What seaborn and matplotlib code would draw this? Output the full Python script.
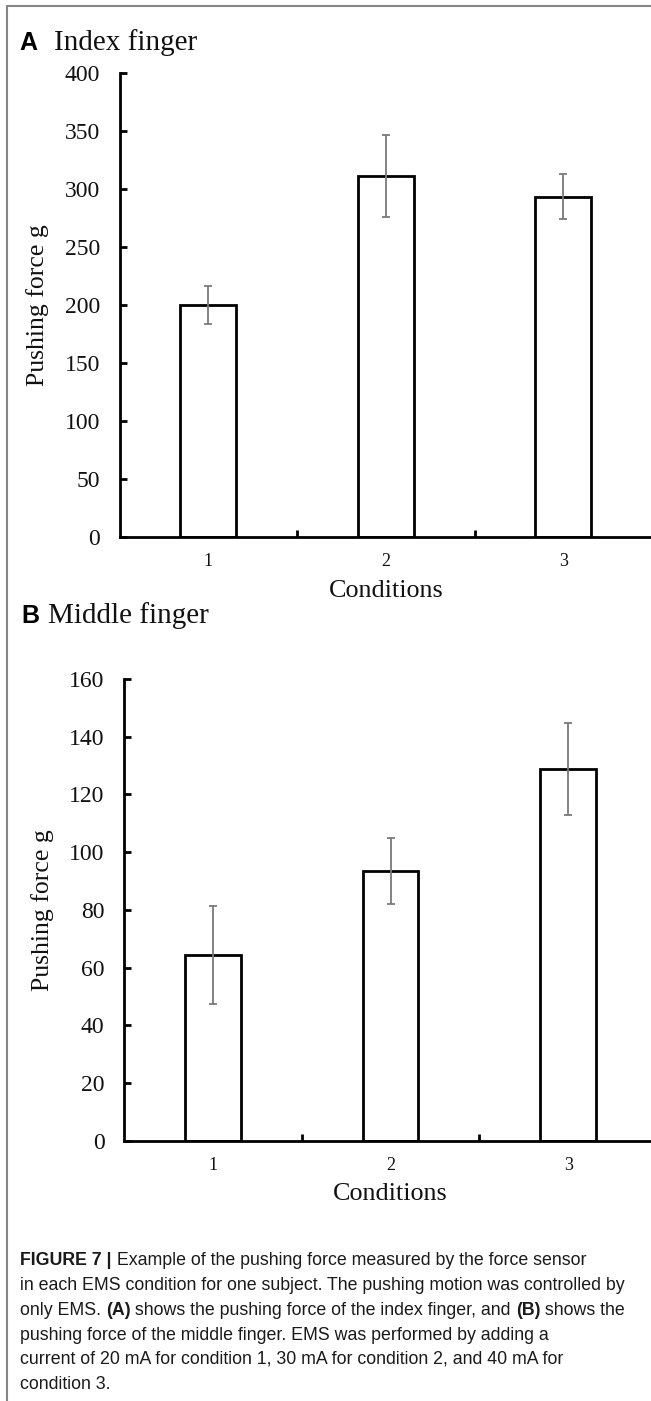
import matplotlib
matplotlib.use("Agg")
import matplotlib.pyplot as plt
import seaborn as sns
import pandas as pd
from matplotlib.lines import Line2D

# ---------------- data ----------------
conditions = ["1", "2", "3"]
index_force = [200, 311, 293.5]
index_err = [16, 35.5, 19.7]
middle_force = [64.3, 93.5, 128.7]
middle_err = [17, 11.5, 16]
index_yticks = [0, 50, 100, 150, 200, 250, 300, 350, 400]
middle_yticks = [0, 20, 40, 60, 80, 100, 120, 140, 160]

sns.set_theme(style="white")
plt.rcParams["font.family"] = ["Liberation Serif", "DejaVu Serif"]

W, H = 651, 1401
fig = plt.figure(figsize=(W / 100, H / 100), dpi=100)


def px_rect(left, right, top, bottom):
    return [left / W, 1 - bottom / H, (right - left) / W, (bottom - top) / H]


def draw_panel(rect, vals, errs, yticks, ymax):
    ax = fig.add_axes(rect)
    df = pd.DataFrame({"Conditions": conditions, "Force": vals})
    sns.barplot(data=df, x="Conditions", y="Force", ax=ax, color="white",
                edgecolor="black", linewidth=2.0, width=0.315, errorbar=None,
                saturation=1)
    ax.errorbar(range(len(vals)), vals, yerr=errs, fmt="none", ecolor="#7a7a7a",
                elinewidth=1.3, capsize=3.2, capthick=1.3, zorder=5)
    ax.set_xlim(-0.5, 2.5)
    ax.set_ylim(0, ymax)
    ax.set_yticks(yticks)
    ax.set_yticklabels([str(t) for t in yticks], fontsize=17)
    ax.set_xticks([0, 1, 2])
    ax.set_xticklabels(conditions, fontsize=13)
    ax.set_xticks([0.5, 1.5], minor=True)
    ax.tick_params(axis="x", which="major", length=0, pad=11.5)
    ax.tick_params(axis="x", which="minor", length=5, width=2, direction="in",
                   color="black", bottom=True)
    ax.tick_params(axis="y", which="major", length=5, width=2, direction="in",
                   color="black", left=True, pad=14)
    for s in ["top", "right"]:
        ax.spines[s].set_visible(False)
    for s in ["left", "bottom"]:
        ax.spines[s].set_color("black")
        ax.spines[s].set_linewidth(2)
    ax.set_facecolor("white")
    ax.grid(False)
    ax.set_xlabel("Conditions", fontsize=18.8, labelpad=7, color="#111111")
    ax.set_ylabel("Pushing force g", fontsize=18.5, labelpad=11, color="#111111")
    for lab in ax.get_xticklabels() + ax.get_yticklabels():
        lab.set_color("#111111")
    return ax


axA = draw_panel(px_rect(119.5, 652, 73, 537), index_force, index_err, index_yticks, 400)
axB = draw_panel(px_rect(124, 657, 679, 1140.7), middle_force, middle_err, middle_yticks, 160)

# panel titles
fig.text(19 / W, 1 - 50 / H, "A", family="Liberation Sans", weight="bold",
         fontsize=18, va="baseline", ha="left", color="black")
fig.text(54 / W, 1 - 50 / H, "Index finger", fontsize=21, va="baseline",
         ha="left", color="#111111")
fig.text(21 / W, 1 - 623 / H, "B", family="Liberation Sans", weight="bold",
         fontsize=18, va="baseline", ha="left", color="black")
fig.text(48 / W, 1 - 623 / H, "Middle finger", fontsize=21, va="baseline",
         ha="left", color="#111111")

# frame lines
fig.add_artist(Line2D([7 / W, 1], [1 - 6 / H, 1 - 6 / H], color="#858585",
                      lw=1.5, transform=fig.transFigure))
fig.add_artist(Line2D([7 / W, 7 / W], [0, 1 - 6 / H], color="#858585",
                      lw=1.5, transform=fig.transFigure))

# caption
cap_font = ["Liberation Sans", "DejaVu Sans"]
caption_lines = [
    [("FIGURE 7 |", True), (" Example of the pushing force measured by the force sensor", False)],
    [("in each EMS condition for one subject. The pushing motion was controlled by", False)],
    [("only EMS. ", False), ("(A)", True), (" shows the pushing force of the index finger, and ", False),
     ("(B)", True), (" shows the", False)],
    [("pushing force of the middle finger. EMS was performed by adding a", False)],
    [("current of 20 mA for condition 1, 30 mA for condition 2, and 40 mA for", False)],
    [("condition 3.", False)],
]
baselines = [1265, 1290, 1315, 1340, 1364, 1389]

fig.canvas.draw()
renderer = fig.canvas.get_renderer()

# fit the widest caption line into the reference width (20 -> 627 px)
probe = fig.text(0, 0, caption_lines[1][0][0], family=cap_font, fontsize=13.5)
pw = probe.get_window_extent(renderer=renderer).width
probe.remove()
cap_size = 13.5 * 605 / pw

for segs, yb in zip(caption_lines, baselines):
    x = 20
    for txt, bold in segs:
        t = fig.text(x / W, 1 - yb / H, txt, family=cap_font,
                     weight="bold" if bold else "normal", fontsize=cap_size,
                     va="baseline", ha="left", color="#1a1a1a")
        bb = t.get_window_extent(renderer=renderer)
        x += bb.width

fig.savefig("out.png", dpi=100, facecolor="white")
